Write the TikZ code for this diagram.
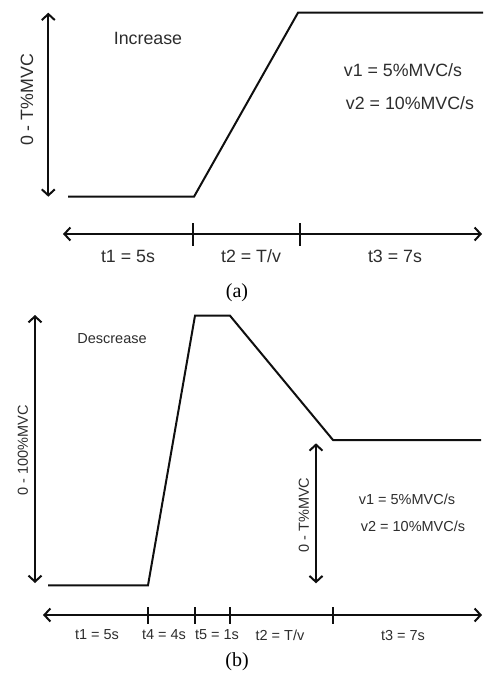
\documentclass[tikz,border=0pt]{standalone}
\usepackage{fontspec}
\setmainfont{Liberation Serif}
\setsansfont{Liberation Sans}
\usetikzlibrary{arrows.meta}
\definecolor{txt}{RGB}{45,45,45}
\definecolor{ln}{RGB}{15,15,15}
\begin{document}
\begin{tikzpicture}[x=1pt,y=-1pt,
  curve/.style={draw=ln, line width=2pt, line join=miter},
  dbl/.style={draw=ln, line width=2pt, {Straight Barb[length=6pt,width=13pt]}-{Straight Barb[length=6pt,width=13pt]}},
  tickmark/.style={draw=ln, line width=2pt},
  lblA/.style={font=\sffamily\fontsize{17.8}{20}\selectfont, text=txt, inner sep=0pt},
  lblB/.style={font=\sffamily\fontsize{14.5}{17}\selectfont, text=txt, inner sep=0pt},
  capt/.style={font=\fontsize{20}{23}\selectfont, inner sep=0pt}]
\useasboundingbox (0,0) rectangle (483,681);
% ---------- panel (a)
\coordinate (a0) at (68,196.7);
\coordinate (a1) at (194,196.7);
\coordinate (a2) at (298,12.7);
\coordinate (a3) at (483,12.7);
\draw[curve] (a0) -- (a1) -- (a2) -- (a3);
\coordinate (av1) at (48.3,12.7);
\coordinate (av2) at (48.3,196.7);
\draw[dbl] (av1) -- (av2);
\node[lblA, rotate=90] (alab) at (27,100) {0 - T\%MVC};
\node[lblA] (ainc) at (148,38) {Increase};
\node[lblA] (av1t) at (403,70) {v1 = 5\%MVC/s};
\node[lblA] (av2t) at (410,103) {v2 = 10\%MVC/s};
\coordinate (ax0) at (63,234);
\coordinate (ax1) at (482,234);
\draw[dbl] (ax0) -- (ax1);
\coordinate (at1u) at (193,223); \coordinate (at1d) at (193,246);
\coordinate (at2u) at (300,223); \coordinate (at2d) at (300,246);
\draw[tickmark] (at1u) -- (at1d);
\draw[tickmark] (at2u) -- (at2d);
\node[lblA] (at1) at (128,256) {t1 = 5s};
\node[lblA] (at2) at (251,256) {t2 = T/v};
\node[lblA] (at3) at (395,256) {t3 = 7s};
\node[capt] (capa) at (237,293) {(a)};
% ---------- panel (b)
\coordinate (b0) at (48,585.3);
\coordinate (b1) at (148,585.3);
\coordinate (b2) at (195,315.7);
\coordinate (b3) at (230,315.7);
\coordinate (b4) at (333,440);
\coordinate (b5) at (481,440);
\draw[curve] (b0) -- (b1) -- (b2) -- (b3) -- (b4) -- (b5);
\coordinate (bv1) at (35,315);
\coordinate (bv2) at (35,583);
\draw[dbl] (bv1) -- (bv2);
\node[lblB, rotate=90] (blab) at (23,450) {0 - 100\%MVC};
\node[lblB] (bdec) at (112,339) {Descrease};
\coordinate (bw1) at (316,443.3);
\coordinate (bw2) at (316,583.3);
\draw[dbl] (bw1) -- (bw2);
\node[lblB, rotate=90] (blab2) at (304,515) {0 - T\%MVC};
\node[lblB] (bv1t) at (407,499) {v1 = 5\%MVC/s};
\node[lblB] (bv2t) at (413,526) {v2 = 10\%MVC/s};
\coordinate (bx0) at (43,615);
\coordinate (bx1) at (482,615);
\draw[dbl] (bx0) -- (bx1);
\foreach \i/\x in {1/148,2/195,3/230,4/333}{
  \coordinate (bt\i u) at (\x,607);
  \coordinate (bt\i d) at (\x,624);
  \draw[tickmark] (bt\i u) -- (bt\i d);
}
\node[lblB] (bt1) at (97,635) {t1 = 5s};
\node[lblB] (bt4) at (164,635) {t4 = 4s};
\node[lblB] (bt5) at (217,635) {t5 = 1s};
\node[lblB] (bt2) at (280,635) {t2 = T/v};
\node[lblB] (bt3) at (403,635) {t3 = 7s};
\node[capt] (capb) at (237,662) {(b)};
\end{tikzpicture}
\end{document}
